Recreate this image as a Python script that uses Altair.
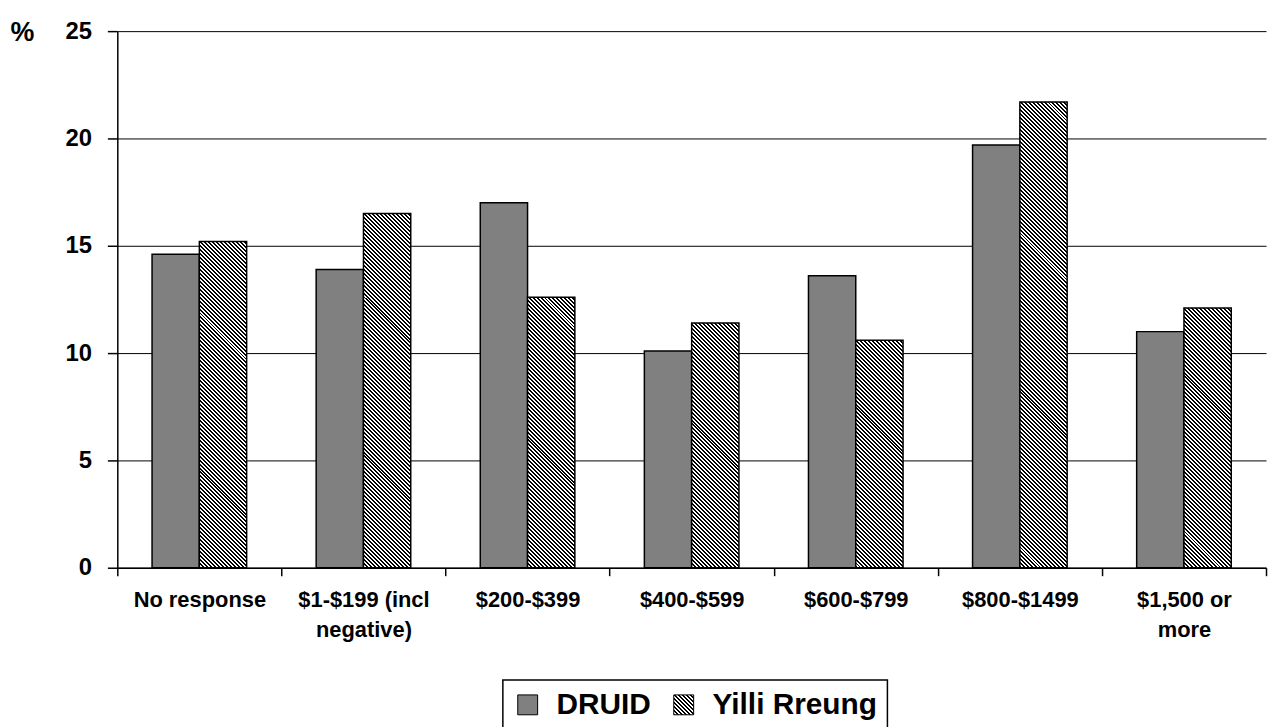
import json
import altair as alt
import pandas as pd

# ---- data ----
categories = [
    "No response",
    "$1-$199 (incl\nnegative)",
    "$200-$399",
    "$400-$599",
    "$600-$799",
    "$800-$1499",
    "$1,500 or\nmore",
]
series_names = ["DRUID", "Yilli Rreung"]
druid = [14.6, 13.9, 17.0, 10.1, 13.6, 19.7, 11.0]
yilli = [15.2, 16.5, 12.6, 11.4, 10.6, 21.7, 12.1]
y_ticks = [0, 5, 10, 15, 20, 25]

# ---- layout ----
PLOT_W, PLOT_H = 1156, 540
Y_MAX = 25
OFFSET_PAD = 0.735  # outer padding of the two-bar group inside each category
STEP = PLOT_W / len(categories)
BAR_W = STEP / (2 + 2 * OFFSET_PAD)
FONT = "Liberation Sans"
GRAY = "#808080"


def hatch(w, h, period=4.0, dark=0.5):
    """Diagonal (downward) hatch as a linear gradient over a w x h box."""
    k = (w + h) / (w * w + h * h)
    span = w + h
    stops = []
    n = int(span / period) + 1
    for i in range(n):
        a = i * period / span
        b = (i + dark) * period / span
        c = (i + 1) * period / span
        if a > 1:
            break
        stops.append({"offset": round(a, 5), "color": "black"})
        stops.append({"offset": round(min(b, 1), 5), "color": "black"})
        if b < 1:
            stops.append({"offset": round(b, 5), "color": "white"})
            stops.append({"offset": round(min(c, 1), 5), "color": "white"})
    return {
        "gradient": "linear",
        "x1": 0,
        "y1": 1,
        "x2": round(k * w, 5),
        "y2": round(1 - k * h, 5),
        "stops": stops,
    }


rows = []
for i, c in enumerate(categories):
    rows.append({"idx": i, "cat": c, "series": series_names[0], "value": druid[i]})
    rows.append({"idx": i, "cat": c, "series": series_names[1], "value": yilli[i]})
df = pd.DataFrame(rows)

conditions = []
for i, v in enumerate(yilli):
    h = v * PLOT_H / Y_MAX
    conditions.append(
        {
            "test": f"datum.idx === {i} && datum.series === '{series_names[1]}'",
            "value": hatch(BAR_W, h),
        }
    )

# hatched swatch for the legend (a 20x20 square symbol)
legend_hatch = alt.ExprRef(expr=json.dumps(hatch(20, 20)))

chart = (
    alt.Chart(df)
    .mark_bar(stroke="black", strokeWidth=1.5)
    .encode(
        x=alt.X(
            "cat:N",
            sort=categories,
            scale=alt.Scale(domain=categories, paddingInner=0, paddingOuter=0),
            axis=alt.Axis(
                title=None,
                tickBand="extent",
                tickSize=8,
                tickColor="black",
                tickWidth=1.5,
                domainColor="black",
                domainWidth=1.5,
                labelAngle=0,
                labelFont=FONT,
                labelFontSize=22,
                labelFontWeight="bold",
                labelColor="black",
                labelPadding=14,
                labelLineHeight=30,
                labelExpr="split(datum.label, '\\n')",
                grid=False,
            ),
        ),
        xOffset=alt.XOffset(
            "series:N",
            sort=series_names,
            scale=alt.Scale(domain=series_names, paddingInner=0, paddingOuter=OFFSET_PAD),
        ),
        y=alt.Y(
            "value:Q",
            scale=alt.Scale(domain=[0, Y_MAX], nice=False),
            axis=alt.Axis(
                values=y_ticks,
                title="%",
                titleAngle=0,
                titleAlign="left",
                titleBaseline="middle",
                titleX=-108,
                titleY=1,
                titleFont=FONT,
                titleFontSize=27,
                titleFontWeight="bold",
                titleColor="black",
                grid=True,
                gridColor="black",
                gridWidth=1,
                tickSize=10,
                tickColor="black",
                tickWidth=1.5,
                domainColor="black",
                domainWidth=1.5,
                labelFont=FONT,
                labelFontSize=24,
                labelFontWeight="bold",
                labelColor="black",
                labelPadding=16,
            ),
        ),
        fill=alt.Fill(
            "series:N",
            scale=alt.Scale(domain=series_names, range=[GRAY, legend_hatch]),
            legend=alt.Legend(
                title=None,
                orient="none",
                legendX=388,
                legendY=653,
                direction="horizontal",
                symbolType="square",
                symbolSize=400,
                symbolStrokeColor="black",
                symbolStrokeWidth=1,
                symbolOpacity=1,
                labelFont=FONT,
                labelFontSize=30,
                labelFontWeight="bold",
                labelColor="black",
                labelOffset=14,
                labelLimit=400,
                columnPadding=18,
                padding=10,
                strokeColor="black",
            ),
            condition=conditions,
        ),
    )
    .properties(
        width=PLOT_W,
        height=PLOT_H,
        padding={"left": 110, "top": 21, "right": 2, "bottom": 158},
        autosize=alt.AutoSizeParams(type="none"),
    )
    .configure_view(stroke="transparent")
    .configure_legend(strokeWidth=1.5)
)

chart.save("out.html", embed_options={"renderer": "svg", "actions": False})
